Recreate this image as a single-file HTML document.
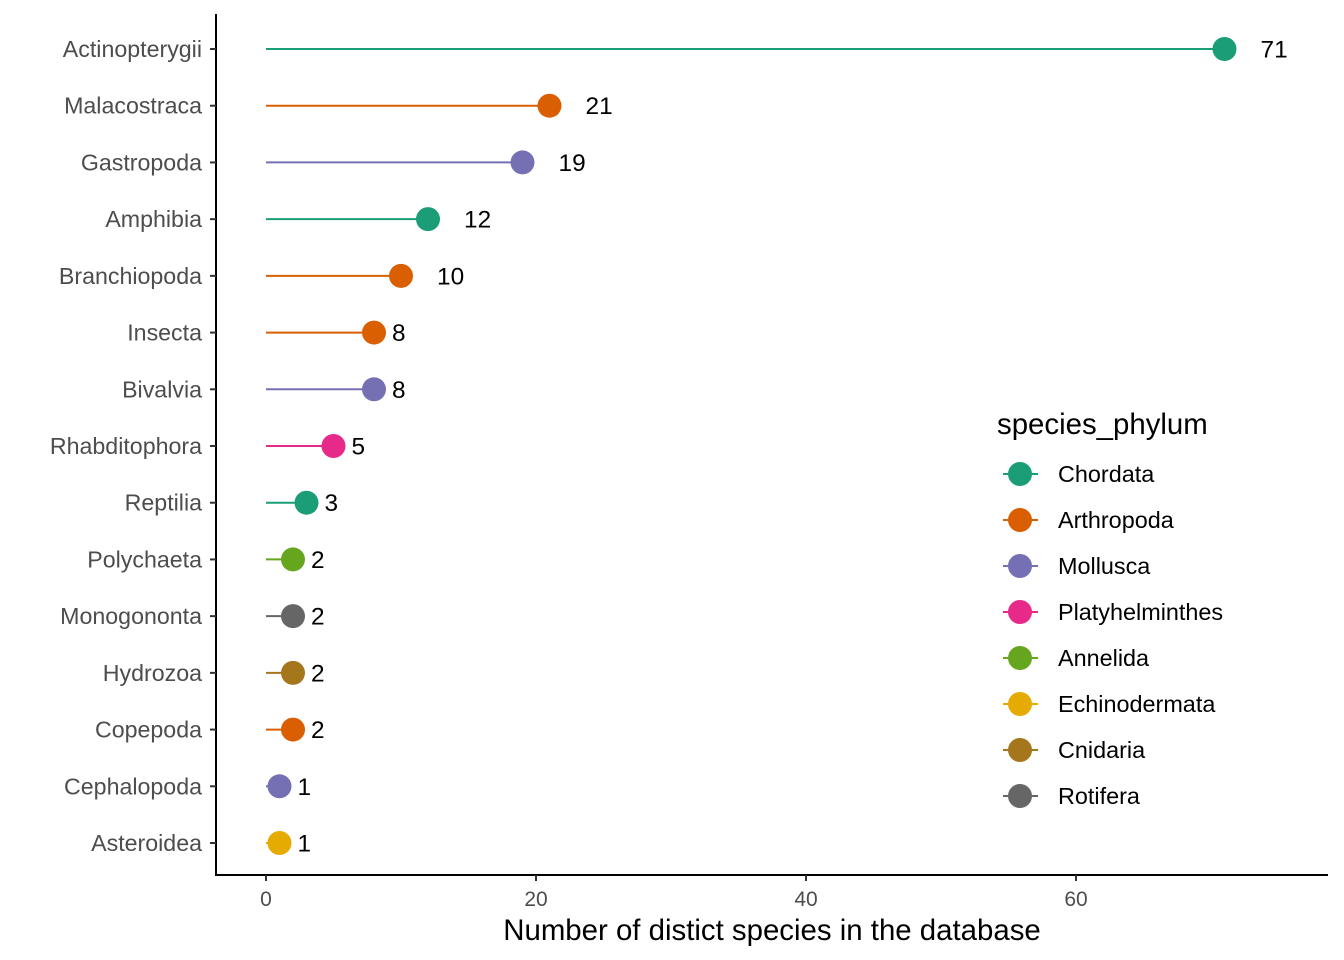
<!DOCTYPE html>
<html><head><meta charset="utf-8">
<style>
html,body{margin:0;padding:0;background:#fff;}
svg{display:block;font-family:"Liberation Sans",Arial,sans-serif;}
</style></head>
<body>
<svg id="chart" width="1344" height="960" xmlns="http://www.w3.org/2000/svg"></svg>
<script>
const categories = ["Actinopterygii","Malacostraca","Gastropoda","Amphibia","Branchiopoda","Insecta","Bivalvia","Rhabditophora","Reptilia","Polychaeta","Monogononta","Hydrozoa","Copepoda","Cephalopoda","Asteroidea"];
const values = [71,21,19,12,10,8,8,5,3,2,2,2,2,1,1];
const phyla = ["Chordata","Arthropoda","Mollusca","Chordata","Arthropoda","Arthropoda","Mollusca","Platyhelminthes","Chordata","Annelida","Rotifera","Cnidaria","Arthropoda","Mollusca","Echinodermata"];
const legendNames = ["Chordata","Arthropoda","Mollusca","Platyhelminthes","Annelida","Echinodermata","Cnidaria","Rotifera"];
const legendColors = ["#1B9E77","#D95F02","#7570B3","#E7298A","#66A61E","#E6AB02","#A6761D","#666666"];
const xTicks = [0,20,40,60];

const svg = document.getElementById('chart');
const NS = "http://www.w3.org/2000/svg";
function mk(tag, attrs, parent){
  const e = document.createElementNS(NS, tag);
  for (const k in attrs) e.setAttribute(k, attrs[k]);
  (parent||svg).appendChild(e);
  return e;
}
const x = v => 266 + v * 13.5;
const y = i => 49 + i * (843 - 49) / 14;
const colorOf = p => legendColors[legendNames.indexOf(p)];

let e = mk('line',{x1:216,y1:14,x2:216,y2:876,stroke:'#000','stroke-width':2});


e = mk('line',{x1:215,y1:875,x2:1328,y2:875,stroke:'#000','stroke-width':2});



xTicks.forEach(t=>{
  let tk = mk('line',{x1:x(t),y1:875,x2:x(t),y2:881,stroke:'#333','stroke-width':2});
  
  
  let tl = mk('text',{x:x(t),y:906,'text-anchor':'middle','font-size':21,fill:'#4d4d4d'});
  tl.textContent = t;
  
  
});
e = mk('text',{x:772,y:940,'text-anchor':'middle','font-size':29.4,fill:'#000'});
e.textContent = 'Number of distict species in the database';



categories.forEach((c,i)=>{
  const yy = y(i), col = colorOf(phyla[i]);
  let tk = mk('line',{x1:210,y1:yy,x2:216,y2:yy,stroke:'#333','stroke-width':2});
  
  
  let tl = mk('text',{x:202,y:yy+8,'text-anchor':'end','font-size':23.2,fill:'#4d4d4d'});
  tl.textContent = c;
  
  
  let ln = mk('line',{x1:x(0),y1:yy,x2:x(values[i]),y2:yy,stroke:col,'stroke-width':2});
  
  
  let pt = mk('circle',{cx:x(values[i]),cy:yy,r:12,fill:col});
  
  
  const digits = String(values[i]).length;
  let vl = mk('text',{x:x(values[i])+18*digits,y:yy+8.5,'font-size':24.4,fill:'#000'});
  vl.textContent = values[i];
  
  
});

e = mk('text',{x:997,y:434,'font-size':29.4,fill:'#000'});
e.textContent = 'species_phylum';


legendNames.forEach((n,i)=>{
  const yy = 474 + i*46;
  const g = mk('g',{});
  
  
  mk('line',{x1:1003,y1:yy,x2:1038,y2:yy,stroke:legendColors[i],'stroke-width':2},g);
  mk('circle',{cx:1020,cy:yy,r:12,fill:legendColors[i]},g);
  const t = mk('text',{x:1058,y:yy+8,'font-size':23.4,fill:'#000'},g);
  t.textContent = n;
});
</script>
</body></html>
